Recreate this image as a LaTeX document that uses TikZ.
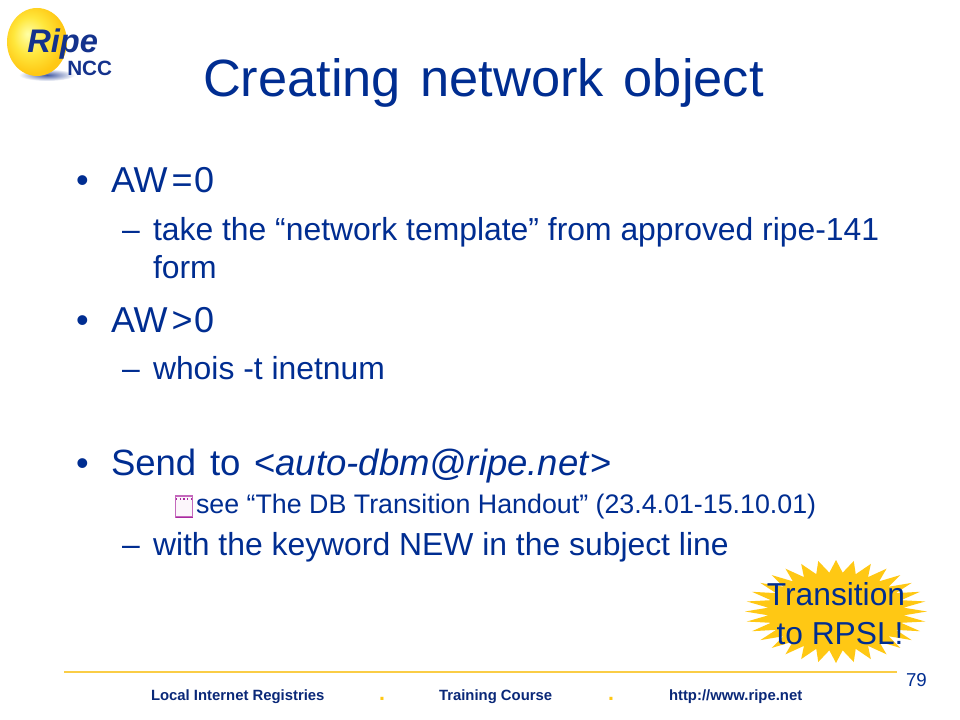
\documentclass[tikz,border=0pt]{standalone}
\usepackage{fontspec}
\setmainfont{Liberation Sans}
\newfontfamily\titlesp[WordSpace=1.55]{Liberation Sans}
\newfontfamily\sendsp[WordSpace=1.35]{Liberation Sans}
\definecolor{navy}{RGB}{0,45,145}
\definecolor{footnavy}{RGB}{10,40,120}
\definecolor{logoblue}{RGB}{20,50,140}
\definecolor{gold}{RGB}{255,200,20}
\definecolor{rulegold}{RGB}{250,205,70}
\definecolor{purple1}{RGB}{170,40,160}
\newcommand{\fs}[1]{\fontsize{#1}{#1}\selectfont}
\pgfdeclareradialshading{sphere}{\pgfpoint{-8bp}{6bp}}{
 color(0bp)=(yellow!35!white);
 color(14bp)=(yellow!45!gold!80!white);
 color(26bp)=(gold);
 color(50bp)=(gold!90!orange)}
\tikzset{x=0.75pt,y=-0.75pt,
 txt/.style={anchor=base west,inner sep=0pt,outer sep=0pt,text=navy},
 title/.style={txt,font=\titlesp\fs{39.3}},
 lone/.style={txt,font=\fs{27}},
 ltwo/.style={txt,font=\fs{23.9}},
 foot/.style={txt,text=footnavy,font=\fs{11.15}\bfseries},
 footdot/.style={txt,text=gold,font=\fs{16}\bfseries}}
\begin{document}
\begin{tikzpicture}
\useasboundingbox (0,0) rectangle (960,720);
\fill[white] (0,0) rectangle (960,720);
% logo
\shade[inner color=logoblue!80,outer color=white] (47,75) ellipse (28 and 6);
\shade[shading=sphere] (37,42) ellipse (30 and 34);
\node[anchor=base west,inner sep=0pt,text=logoblue,font=\fs{24.5}\bfseries\itshape] (ripe) at (27,53) {Ripe};
\node[anchor=base west,inner sep=0pt,text=logoblue,font=\fs{15.5}\bfseries] (ncc) at (67,76) {NCC};
% title
\node[title] (t) at (203,97) {Creating network object};
% bullets
\node[lone] (b1) at (76,192.5) {•};
\node[lone] (a1) at (111,192.5) {AW\kern3pt=\kern1pt0};
\node[ltwo] (d1) at (122,241) {–};
\node[ltwo] (c1) at (153,241) {take the “network template” from approved ripe-141};
\node[ltwo] (c1b) at (153,278.5) {form};
\node[lone] (b2) at (76,332) {•};
\node[lone] (a2) at (111,332) {AW\kern3pt>\kern1pt0};
\node[ltwo] (d2) at (122,379) {–};
\node[ltwo] (c2) at (153,379) {whois -t inetnum};
\node[lone] (b3) at (76,475) {•};
\node[lone,font=\sendsp\fs{27.4}] (a3) at (111,475) {Send to <\textit{auto-dbm@ripe.net}>};
\draw[purple1!70,fill=purple1!4,line width=0.8pt] (175.5,496) rectangle (192.5,517);
\draw[purple1,line width=1.4pt] (175.5,517.5) -- (192.5,517.5);
\draw[purple1,line width=0.8pt,dotted] (176,499) -- (192,499);
\node[txt,font=\fs{20.1}] (s) at (196,513) {see “The DB Transition Handout” (23.4.01-15.10.01)};
\node[ltwo] (d3) at (122,555) {–};
\node[ltwo] (c3) at (153,555) {with the keyword NEW in the subject line};
% star
\fill[gold] plot[samples at={0,5.625,...,354.4},tension=0] ({836+(mod(round(\x/5.625),2)==0 ? 91 : 68)*cos(\x)},{611.5+(mod(round(\x/5.625),2)==0 ? 51.5 : 39)*sin(\x)}) -- cycle;
\node[txt,font=\fs{23.8},anchor=base,text=navy] (u1) at (836,605) {Transition};
\node[txt,font=\fs{23.8},anchor=base,text=navy] (u2) at (840,644) {to RPSL!};
% footer
\draw[rulegold,line width=1.5pt] (64,672) -- (897,672);
\node[txt,font=\fs{14}] (n) at (906,686) {79};
\node[foot] (f1) at (151,700) {Local Internet Registries};
\node[footdot] (f2) at (379,700) {.};
\node[foot] (f3) at (439,700) {Training Course};
\node[footdot] (f4) at (608,700) {.};
\node[foot] (f5) at (669,700) {http://www.ripe.net};
\end{tikzpicture}
\end{document}
